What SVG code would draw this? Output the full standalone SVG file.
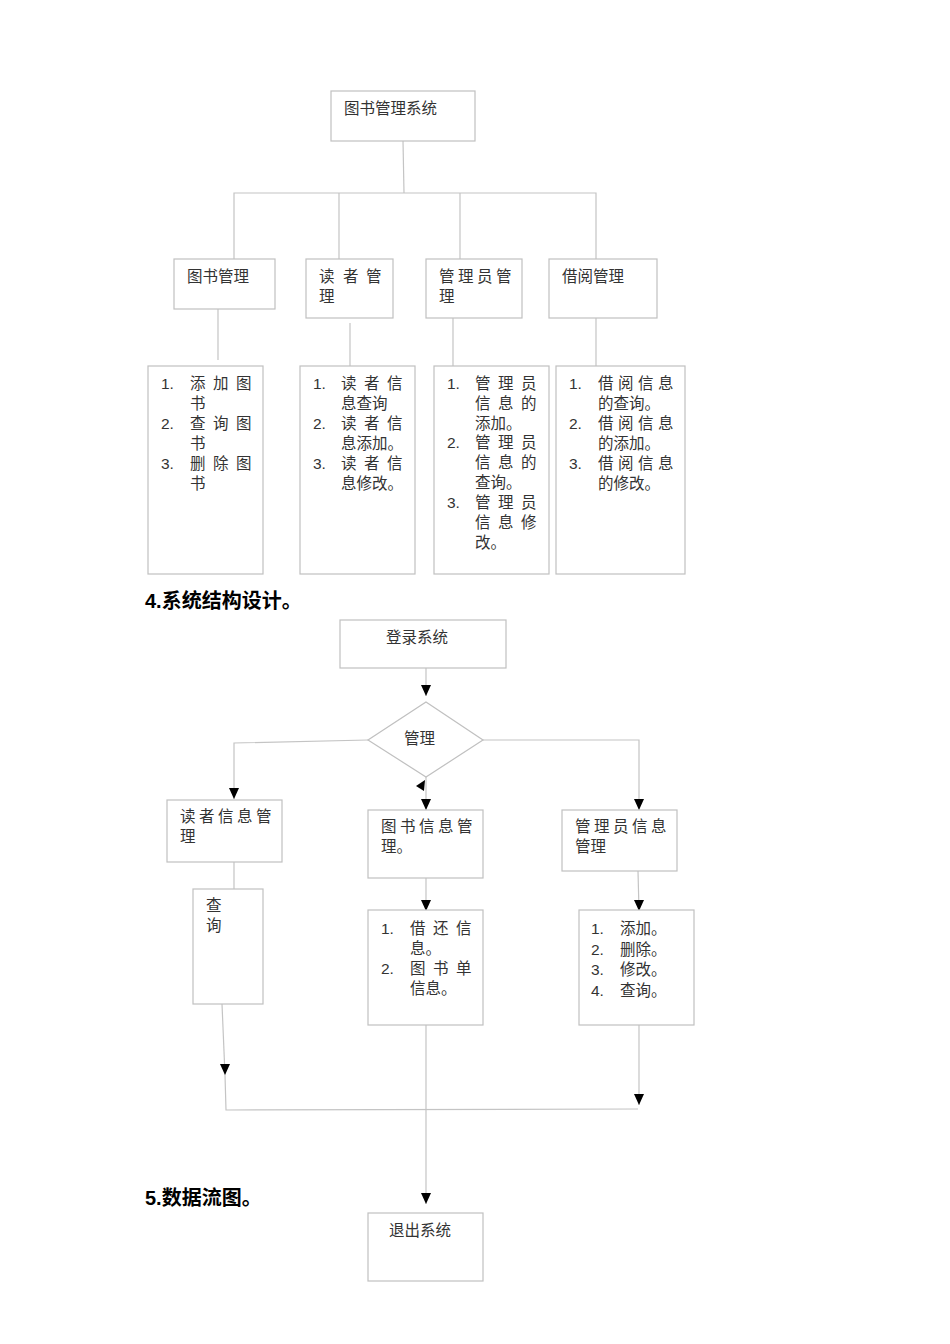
<svg xmlns="http://www.w3.org/2000/svg" width="950" height="1344" viewBox="0 0 950 1344">
<style>
rect.n,polygon.b{fill:#fff;stroke:#c0c0c0;stroke-width:1.2}
.c line,.c polyline{stroke:#c4c4c4;stroke-width:1.2;fill:none}
text{font-family:"Liberation Sans","Noto Sans CJK SC",sans-serif;font-size:15.5px;fill:#333}
.h{font-size:20px;font-weight:bold;fill:#000}
</style>
<defs>
<marker id="ad" markerWidth="10" markerHeight="11" refX="5" refY="11" markerUnits="userSpaceOnUse"><path d="M0,0 L10,0 L5,11 z" fill="#000"/></marker></defs>
<rect width="950" height="1344" fill="#fff"/>
<g class="c">
<polyline points="403,141 404,193"/>
<polyline points="234,259 234,193 596,193 596,259"/>
<line x1="339" y1="193" x2="339" y2="259"/><line x1="460" y1="193" x2="460" y2="259"/>
<line x1="218" y1="285" x2="218" y2="360"/><line x1="350" y1="323" x2="350" y2="366"/>
<line x1="453" y1="293" x2="453" y2="366"/><line x1="596" y1="293" x2="596" y2="366"/>
<line x1="426" y1="668" x2="426" y2="696" marker-end="url(#ad)"/>
<polyline points="368,740 234,743 234,799" marker-end="url(#ad)"/>
<polyline points="483,740 639,740 639,810" marker-end="url(#ad)"/>
<line x1="426" y1="777" x2="426" y2="810" marker-end="url(#ad)"/>
<line x1="234" y1="862" x2="234" y2="889"/>
<line x1="426" y1="878" x2="426" y2="911" marker-end="url(#ad)"/>
<line x1="638" y1="871" x2="639" y2="911" marker-end="url(#ad)"/>
<line x1="222" y1="1004" x2="225" y2="1075" marker-end="url(#ad)"/>
<polyline points="225,1075 226,1110 638,1109"/>
<line x1="639" y1="1020" x2="639" y2="1105" marker-end="url(#ad)"/>
<line x1="426" y1="1025" x2="426" y2="1204" marker-end="url(#ad)"/>
<path d="M416,786 L425,780 L424,791 z" fill="#000" stroke="none"/>
</g>
<g id="n-root"><rect class="n" x="331" y="91" width="144" height="50"/><text x="344" y="114">图书管理系统</text></g>
<g id="n-b1"><rect class="n" x="174" y="259" width="101" height="50"/><text x="187" y="282">图书管理</text></g>
<g id="n-b2"><rect class="n" x="306" y="259" width="87" height="59"/><text x="319 343 366" y="282">读者管</text><text x="319" y="302">理</text></g>
<g id="n-b3"><rect class="n" x="426" y="259" width="96" height="59"/><text x="439 458 477 496" y="282">管理员管</text><text x="439" y="302">理</text></g>
<g id="n-b4"><rect class="n" x="549" y="259" width="108" height="59"/><text x="562" y="282">借阅管理</text></g>
<g id="n-l1"><rect class="n" x="148" y="366" width="115" height="208"/>
<text x="161" y="389">1.</text><text x="190 213 236" y="389">添加图</text><text x="190" y="409">书</text>
<text x="161" y="429">2.</text><text x="190 213 236" y="429">查询图</text><text x="190" y="449">书</text>
<text x="161" y="469">3.</text><text x="190 213 236" y="469">删除图</text><text x="190" y="489">书</text></g>
<g id="n-l2"><rect class="n" x="300" y="366" width="115" height="208"/>
<text x="313" y="389">1.</text><text x="341 364 387" y="389">读者信</text><text x="341" y="409">息查询</text>
<text x="313" y="429">2.</text><text x="341 364 387" y="429">读者信</text><text x="341" y="449">息添加。</text>
<text x="313" y="469">3.</text><text x="341 364 387" y="469">读者信</text><text x="341" y="489">息修改。</text></g>
<g id="n-l3"><rect class="n" x="434" y="366" width="115" height="208"/>
<text x="447" y="389">1.</text><text x="475 498 521" y="389">管理员</text><text x="475 498 521" y="409">信息的</text><text x="475" y="429">添加。</text>
<text x="447" y="448">2.</text><text x="475 498 521" y="448">管理员</text><text x="475 498 521" y="468">信息的</text><text x="475" y="488">查询。</text>
<text x="447" y="508">3.</text><text x="475 498 521" y="508">管理员</text><text x="475 498 521" y="528">信息修</text><text x="475" y="548">改。</text></g>
<g id="n-l4"><rect class="n" x="556" y="366" width="129" height="208"/>
<text x="569" y="389">1.</text><text x="598 618 638 658" y="389">借阅信息</text><text x="598" y="409">的查询。</text>
<text x="569" y="429">2.</text><text x="598 618 638 658" y="429">借阅信息</text><text x="598" y="449">的添加。</text>
<text x="569" y="469">3.</text><text x="598 618 638 658" y="469">借阅信息</text><text x="598" y="489">的修改。</text></g>
<text class="h" x="145" y="608">4.系统结构设计。</text>
<g id="n-login"><rect class="n" x="340" y="620" width="166" height="48"/><text x="386" y="643">登录系统</text></g>
<g id="n-mg"><polygon class="b" points="426,702 483,740 426,777 368,740"/><text x="404" y="744">管理</text></g>
<g id="n-rd"><rect class="n" x="167" y="800" width="115" height="62"/><text x="180 199 218 237 256" y="822">读者信息管</text><text x="180" y="842">理</text></g>
<g id="n-bk"><rect class="n" x="368" y="810" width="115" height="68"/><text x="381 400 419 438 457" y="832">图书信息管</text><text x="381" y="852">理。</text></g>
<g id="n-ad"><rect class="n" x="562" y="810" width="115" height="61"/><text x="575 594 613 632 651" y="832">管理员信息</text><text x="575" y="852">管理</text></g>
<g id="n-q"><rect class="n" x="193" y="889" width="70" height="115"/><text x="206" y="911">查</text><text x="206" y="931">询</text></g>
<g id="n-bl"><rect class="n" x="368" y="910" width="115" height="115"/>
<text x="381" y="934">1.</text><text x="410 433 456" y="934">借还信</text><text x="410" y="954">息。</text>
<text x="381" y="974">2.</text><text x="410 433 456" y="974">图书单</text><text x="410" y="994">信息。</text></g>
<g id="n-al"><rect class="n" x="579" y="910" width="115" height="115"/>
<text x="591" y="934">1.</text><text x="620" y="934">添加。</text>
<text x="591" y="955">2.</text><text x="620" y="955">删除。</text>
<text x="591" y="975">3.</text><text x="620" y="975">修改。</text>
<text x="591" y="996">4.</text><text x="620" y="996">查询。</text></g>
<text class="h" x="145" y="1205">5.数据流图。</text>
<g id="n-exit"><rect class="n" x="368" y="1213" width="115" height="68"/><text x="389" y="1236">退出系统</text></g>
</svg>
